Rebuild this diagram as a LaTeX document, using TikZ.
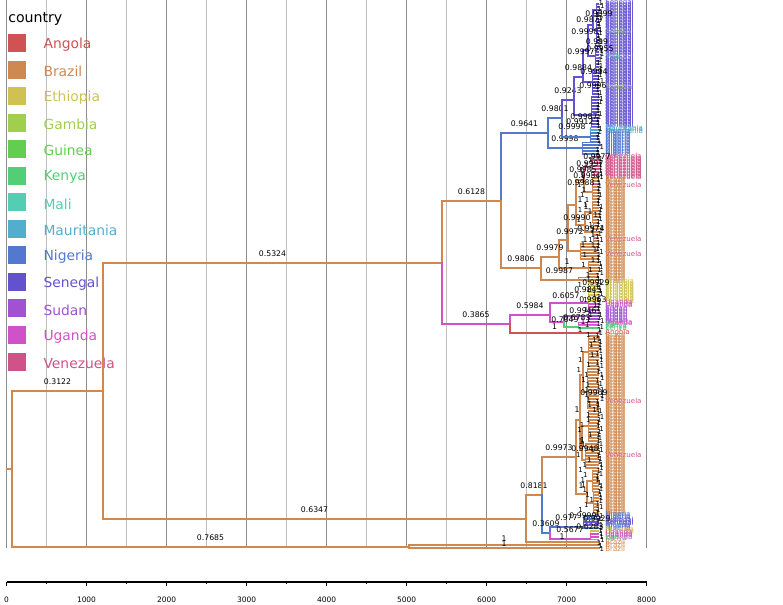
\documentclass[tikz,border=0pt]{standalone}
\usepackage{fontspec}
\setmainfont{DejaVu Sans}
\usetikzlibrary{positioning}

\definecolor{cAngola}{RGB}{208,82,82}
\definecolor{cBrazil}{RGB}{206,136,80}
\definecolor{cEthiopia}{RGB}{208,194,82}
\definecolor{cGambia}{RGB}{162,206,80}
\definecolor{cGuinea}{RGB}{98,206,80}
\definecolor{cKenya}{RGB}{82,206,118}
\definecolor{cMali}{RGB}{82,206,178}
\definecolor{cMauritania}{RGB}{82,174,206}
\definecolor{cNigeria}{RGB}{82,120,208}
\definecolor{cSenegal}{RGB}{98,82,208}
\definecolor{cSudan}{RGB}{160,82,208}
\definecolor{cUganda}{RGB}{208,82,200}
\definecolor{cVenezuela}{RGB}{208,82,136}

\begin{document}
\begin{tikzpicture}[
  x=0.75pt, y=-0.75pt,
  br/.style={line width=1.5pt, line cap=rect},
  sub/.style={line width=1.1pt, line cap=rect},
  tipbr/.style={line width=0.45pt},
  lab/.style={font=\fontsize{5.8}{6}\selectfont, inner sep=1pt, text=black},
  one/.style={font=\fontsize{5.2}{6}\selectfont, inner sep=0pt, text=black},
  tiplab/.style={font=\fontsize{5.3}{5.5}\selectfont, anchor=west, inner sep=0pt},
  grid/.style={line width=0.6pt},
  swatch/.style={minimum size=13.5pt, inner sep=0pt},
  legtext/.style={font=\fontsize{10.4}{12}\selectfont, anchor=west, inner sep=0pt}
]
\useasboundingbox (0,0) rectangle (783,605);

% time grid, every 500 years
\foreach \yr in {0,500,...,8000} {
  \pgfmathsetmacro\gx{6.5+0.08*\yr}
  \pgfmathtruncatemacro\major{mod(\yr,1000)==0}
  \ifnum\major=1 \def\gc{black!45}\else\def\gc{black!25}\fi
  \draw[grid, draw=\gc] (\gx,0) -- (\gx,548);
}

% time axis
\draw[line width=0.9pt] (6.5,582) -- (646.5,582);
\foreach \yr in {0,1000,...,8000} {
  \draw[line width=0.9pt] ({6.5+0.08*\yr},582) -- ++(0,4);
  \node[font=\fontsize{5.6}{6}\selectfont] (ax\yr) at ({6.5+0.08*\yr},600) {\yr};
}
\foreach \yr in {500,1500,...,7500}
  \draw[line width=0.6pt] ({6.5+0.08*\yr},582) -- ++(0,2.5);

% legend
\node[legtext, font=\fontsize{10.6}{12}\selectfont] (legtitle) at (8,19) {country};
\foreach \ctry [count=\i] in {Angola,Brazil,Ethiopia,Gambia,Guinea,Kenya,Mali,Mauritania,Nigeria,Senegal,Sudan,Uganda,Venezuela} {
  \node[swatch, fill=c\ctry] (sw\i) at (17,{43+26.55*(\i-1)}) {};
  \node[legtext, text=c\ctry, right=12.75pt of sw\i, yshift=-1.2pt] (lg\i) {\ctry};
}

% tree nodes (px)
\coordinate (rt) at (6.5,469);
\coordinate (A) at (12,469);
\coordinate (B) at (103,391);
\coordinate (C) at (409,547);
\coordinate (D) at (442,263);
\coordinate (E) at (526,519);
\coordinate (H) at (501,201);
\coordinate (I) at (510,324);
\coordinate (F) at (542,495);
\coordinate (G) at (576,457);
\coordinate (X) at (550,533);
\coordinate (Y) at (583,527);
\coordinate (Z) at (590,539);
\coordinate (K) at (548,133);
\coordinate (J) at (541,268);
\coordinate (L) at (562,118);
\coordinate (R) at (582,148);
\coordinate (M) at (574,100);
\coordinate (P) at (590,137);
\coordinate (S) at (559,257);
\coordinate (T) at (578,280);
\coordinate (U) at (550,315);
\coordinate (ang) at (599,333);
\coordinate (et) at (599,542);
\coordinate (c1) at (599,545);
\coordinate (c2) at (599,548.5);

% small clades
\foreach \n/\nx/\ny/\p/\cc in {
  M1/583/77/M/Senegal, M2/591/115/M/Senegal, M11/588/50/M1/Senegal, M12/592/82/M1/Senegal,
  M111/593/25/M11/Senegal, M112/595/56/M11/Senegal, M1111/596/10/M111/Senegal, M1112/596/30/M111/Senegal,
  V/568/240/S/Brazil, W/588/268/S/Brazil, V1/576/205/V/Brazil, V2/580/251/V/Brazil,
  V3/584/180/V1/Brazil, V4/585/225/V1/Brazil, V5/591/167/V3/Venezuela, V6/592/192/V3/Brazil,
  V7/592/212/V4/Brazil, V8/593/232/V4/Brazil,
  U1/588/303/U/Uganda, U2/564/322/U/Uganda, U21/588/316/U2/Sudan, U22/578/327/U2/Kenya,
  G1/580/420/G/Brazil, G2/587/494/G/Brazil, G11/583/375/G1/Brazil, G12/582/450/G1/Brazil,
  G111/588/352/G11/Brazil, G112/587/392/G11/Brazil, G121/588/426/G12/Brazil, G122/585/460/G12/Brazil,
  G21/592/481/G2/Brazil, G22/593/503/G2/Brazil} {
  \coordinate (\n) at (\nx,\ny);
  \draw[sub, c\cc] (\p) |- (\n);
}

% tips and tip labels
\foreach \p/\ya/\nt/\ctry [count=\g] in {
  M1111/3/10/Senegal, M1112/18/9/Senegal, M1112/31.5/1/Guinea, M1112/33/7/Senegal,
  M112/43.5/9/Senegal, M112/57/1/Mali, M112/58.5/7/Senegal,
  M12/69/12/Senegal, M12/87/1/Gambia, M12/88.5/5/Senegal, M2/96/21/Senegal,
  P/127.5/3/Mauritania, P/132/7/Nigeria, R/142.5/9/Nigeria,
  V5/156/15/Venezuela, V6/178.5/4/Brazil, V6/184.5/1/Venezuela, V6/186/10/Brazil,
  V7/201/15/Brazil, V8/223.5/10/Brazil, V8/238.5/1/Venezuela, V8/240/2/Brazil,
  V2/243/7/Brazil, V2/253.5/1/Venezuela, V2/255/4/Brazil, W/261/11/Brazil, T/277.5/3/Brazil,
  U1/282/14/Ethiopia, U1/303/3/Uganda, U21/307.5/10/Sudan, U22/322.5/2/Uganda, U22/325.5/3/Kenya,
  G111/335/22/Brazil, G112/368/22/Brazil, G112/401/1/Venezuela, G112/402.5/5/Brazil,
  G121/410/22/Brazil, G122/443/8/Brazil, G122/455/1/Venezuela, G122/456.5/9/Brazil,
  G21/470/15/Brazil, G22/492.5/15/Brazil,
  Y/515/4/Nigeria, Y/521/3/Senegal, Y/525.5/3/Nigeria,
  Z/530/2/Ethiopia, Z/533/4/Uganda, Z/539/1/Kenya} {
  \foreach \k in {1,...,\nt} {
    \pgfmathsetmacro\ty{\ya+1.5*(\k-1)}
    \draw[tipbr, c\ctry] (\p) |- (599,\ty);
    \node[tiplab, text=c\ctry] (t\g-\k) at (605,\ty) {\ctry};
  }
}
\node[tiplab, text=cAngola] (tang) at (605,333) {Angola};
\node[tiplab, text=cBrazil] (tet) at (605,542) {Brazil};
\node[tiplab, text=cBrazil] (tc1) at (605,545) {Brazil};
\node[tiplab, text=cBrazil] (tc2) at (605,548.5) {Brazil};

% backbone
\draw[br, cBrazil] (rt) -- (A);
\draw[br, cBrazil] (A) |- node[lab, pos=0.75, above=3pt] {0.3122} (B);
\draw[br, cBrazil] (A) |- node[lab, pos=0.75, above=3pt] {0.7685} (C);
\draw[br, cBrazil] (B) |- node[lab, pos=0.75, above=3pt] {0.5324} (D);
\draw[br, cBrazil] (B) |- node[lab, pos=0.75, above=3pt] {0.6347} (E);
\draw[br, cBrazil] (C) |- node[lab, pos=0.75, above=1pt] {1} (c1);
\draw[br, cBrazil] (C) |- node[lab, pos=0.75, above=0pt] {1} (c2);
\draw[br, cBrazil] (D) |- node[lab, pos=0.75, above=3pt] {0.6128} (H);
\draw[br, cUganda] (D) |- node[lab, pos=0.75, above=3pt] {0.3865} (I);
\draw[br, cNigeria] (H) |- node[lab, pos=0.75, above=3pt] {0.9641} (K);
\draw[br, cBrazil] (H) |- node[lab, pos=0.75, above=3pt] {0.9806} (J);
\draw[br, cNigeria] (K) |- node[lab, pos=0.75, above=3pt] {0.9801} (L);
\draw[br, cNigeria] (K) |- node[lab, pos=0.75, above=3pt] {0.9998} (R);
\draw[br, cSenegal] (L) |- node[lab, pos=0.75, above=3pt] {0.9243} (M);
\draw[br, cNigeria] (L) |- (P);
\draw[br, cSenegal] (M) |- node[lab, pos=0.75, above=3pt] {0.9884} (M1);
\draw[br, cBrazil] (J) |- node[lab, pos=0.75, above=3pt] {0.9979} (S);
\draw[br, cBrazil] (J) |- node[lab, pos=0.75, above=3pt] {0.9987} (T);
\draw[br, cUganda] (I) |- node[lab, pos=0.75, above=3pt] {0.5984} (U);
\draw[br, cAngola] (I) |- node[lab, pos=0.75, above=1pt] {1} (ang);
\draw[br, cBrazil] (E) |- node[lab, pos=0.75, above=3pt] {0.8181} (F);
\draw[br, cBrazil] (E) |- (et);
\draw[br, cBrazil] (F) |- node[lab, pos=0.75, above=3pt] {0.9973} (G);
\draw[br, cNigeria] (F) |- node[lab, pos=0.75, above=3pt] {0.3609} (X);
\draw[br, cNigeria] (X) |- node[lab, pos=0.75, above=3pt] {0.977} (Y);
\draw[br, cUganda] (X) |- node[lab, pos=0.75, above=3pt] {0.5677} (Z);

% posterior labels in the crowded tips
\foreach \lx/\ly/\v [count=\j] in {
  599/14/0.9899, 590/20/0.9877, 585/32/0.9998, 597/42/0.999, 581/52/0.9997, 600/49/0.9955,
  594/72/0.9994, 593/86/0.9996, 584/117/0.9987, 580/122/0.9912, 572/127/0.9998,
  597/157/0.9977, 590/164/0.9997, 583/170/0.9985, 587/176/0.9934, 581/183/0.9988,
  577/218/0.9990, 570/232/0.9972, 591/229/0.9974,
  596/283/0.9929, 588/290/0.9845, 566/296/0.6057, 593/300/0.9963, 583/311/0.9946,
  565/320/0.7049, 577/318/0.6783, 594/393/0.9969, 585/449/0.9948,
  583/516/0.9999, 597/519/0.9929, 590/527/0.6283,
  580/200/1, 586/207/1, 590/212/1, 585/240/1, 583/245/1, 567/262/1,
  583/322/1, 577/410/1, 581/442/1, 581/486/1, 562/537/1} {
  \node[lab] (nl\j) at (\lx,\ly) {\v};
}
\pgfmathsetseed{11}
\foreach \k in {0,...,182} {
  \pgfmathsetmacro\oy{3+3*\k}
  \pgfmathsetmacro\ox{597.5+5*rnd}
  \node[one] (one\k) at (\ox,\oy) {1};
}
\foreach \k in {0,...,70} {
  \pgfmathsetmacro\oy{160+5*\k}
  \pgfmathsetmacro\ox{578+18*rnd}
  \node[one] (sc\k) at (\ox,\oy) {1};
}

\end{tikzpicture}
\end{document}
